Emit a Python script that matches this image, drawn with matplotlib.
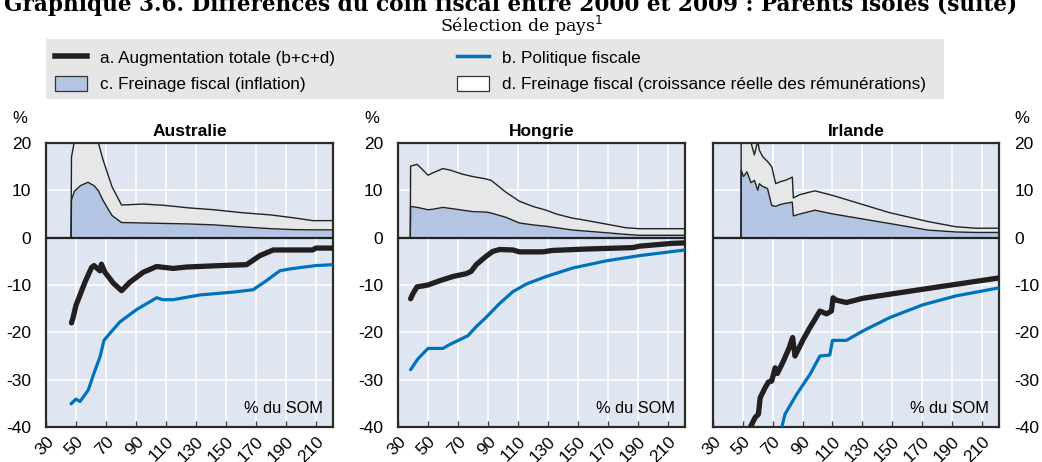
"""
Différences du coin fiscal entre 2000 et 2009 : parents isolés (suite).
Sélection de pays, décomposition par niveau de salaire (% du SOM).
"""
import matplotlib
matplotlib.use("Agg")
import matplotlib.pyplot as plt
from matplotlib.lines import Line2D
from matplotlib.patches import Patch
from matplotlib.transforms import ScaledTranslation

plt.rcParams.update({
    "font.family": ["Liberation Sans", "DejaVu Sans"],
    "font.size": 12,
    "axes.unicode_minus": False,
})

BG_AX    = "#dfe6f2"
C_INFL   = "#b3c5e3"
C_REAL   = "#e6e7e9"
C_TOTAL  = "#231f20"
C_POLICY = "#0072bc"

COUNTRIES = ["Australie", "Hongrie", "Irlande"]

# --- Australie -------------------------------------------------------------
aus_area_x = [30, 46.7, 47, 49, 53, 58, 62, 65, 68, 74, 80.4, 95, 110, 125, 142, 160, 180, 195, 208, 221.5]
aus_infl   = [0, 0, 8.0, 9.8, 11.0, 11.7, 11.0, 9.9, 7.9, 4.7, 3.2, 3.1, 3.0, 2.9, 2.7, 2.3, 1.9, 1.7, 1.65, 1.65]
aus_top    = [0, 0, 17.0, 20.5, 24.0, 26.0, 23.0, 20.0, 16.5, 10.8, 6.9, 7.1, 6.8, 6.3, 5.9, 5.3, 4.8, 4.2, 3.6, 3.6]
aus_tot_x  = [47, 48, 50, 52.7, 56, 60.4, 62, 66, 67, 69.3, 74.9, 80.4, 86, 94.9, 103.8, 114.9, 123.8, 146, 163.8, 172.7, 181.6, 208, 210, 221.5]
aus_tot    = [-18.0, -17.0, -14.3, -12.1, -9.4, -6.3, -5.9, -7.0, -5.6, -7.3, -9.6, -11.2, -9.4, -7.3, -6.1, -6.5, -6.2, -5.9, -5.7, -3.8, -2.6, -2.6, -2.2, -2.2]
aus_pol_x  = [46.7, 50, 52.7, 58.2, 61.6, 66, 68.7, 71.6, 79.3, 90.4, 103.8, 108, 114.9, 132.7, 154.9, 168.2, 177, 186, 192.7, 210, 221.5]
aus_pol    = [-35.1, -34.1, -34.6, -32.2, -29.0, -25.2, -21.7, -20.6, -17.8, -15.2, -12.7, -13.1, -13.1, -12.1, -11.5, -11.0, -9.1, -7.0, -6.6, -5.9, -5.7]

# --- Hongrie ---------------------------------------------------------------
hun_area_x = [30, 38.2, 38.4, 42.7, 44.4, 50, 53.3, 60, 64.4, 73.3, 80, 88.9, 92.2, 102, 111, 120, 128.9, 135.6, 146.7, 151, 166.7, 182, 191, 221.5]
hun_infl   = [0, 0, 6.6, 6.4, 6.3, 5.9, 6.0, 6.4, 6.2, 5.8, 5.5, 5.4, 5.2, 4.3, 3.1, 2.7, 2.4, 2.1, 1.6, 1.5, 1.1, 0.7, 0.5, 0.5]
hun_top    = [0, 0, 15.1, 15.5, 15.0, 13.2, 13.7, 14.6, 14.3, 13.4, 12.9, 12.4, 12.1, 9.6, 7.7, 6.6, 5.8, 5.0, 4.1, 3.9, 3.0, 2.1, 1.9, 1.9]
hun_tot_x  = [38.4, 40, 42.7, 50, 57.8, 66.7, 75.6, 78.9, 82.2, 88.9, 93.3, 97.8, 106.7, 111, 126.7, 133, 155.6, 186.7, 191, 213, 221.5]
hun_tot    = [-12.9, -11.8, -10.4, -10.0, -9.1, -8.2, -7.6, -7.1, -5.7, -3.9, -2.9, -2.5, -2.6, -3.0, -3.0, -2.7, -2.4, -2.1, -1.8, -1.2, -1.1]
hun_pol_x  = [38.4, 43.3, 50, 60, 64.4, 76.7, 82.2, 88.9, 97.8, 106.7, 115.6, 128.9, 146.7, 168.9, 191, 221.5]
hun_pol    = [-27.9, -25.6, -23.4, -23.4, -22.6, -20.7, -18.8, -16.8, -13.9, -11.4, -9.8, -8.2, -6.4, -4.9, -3.8, -2.6]

# --- Irlande ---------------------------------------------------------------
irl_area_x = [30, 48.7, 48.9, 50.4, 52.7, 55.5, 57.7, 60, 61, 63.3, 66.5, 69.3, 72, 74.9, 79.3, 83.1, 83.8, 88.2, 98.2, 110.4, 148, 174, 192.7, 206, 221.5]
irl_infl   = [0, 0, 14.3, 12.9, 13.9, 11.6, 12.1, 10.0, 11.4, 10.8, 10.4, 6.8, 6.6, 7.0, 7.3, 7.5, 4.6, 5.0, 5.8, 5.0, 3.0, 1.6, 1.2, 1.1, 1.1]
irl_top    = [0, 0, 25.0, 24.0, 22.0, 20.0, 17.5, 20.5, 18.5, 17.1, 16.1, 15.0, 11.4, 11.8, 12.2, 12.8, 8.4, 9.1, 9.9, 8.9, 5.3, 3.4, 2.3, 2.0, 2.0]
irl_tot_x  = [50, 54.9, 58.2, 60.4, 61.6, 64.9, 67.1, 69.3, 71.6, 73.1, 77.1, 81.1, 83.3, 84.9, 90.4, 94.9, 101.6, 106, 109.3, 110.4, 112.5, 119.3, 130.4, 170.4, 221.6]
irl_tot    = [-46.0, -40.1, -38.0, -37.3, -33.8, -31.7, -30.5, -30.3, -27.5, -28.7, -26.1, -23.2, -21.1, -25.0, -21.5, -19.0, -15.5, -16.1, -15.5, -12.7, -13.2, -13.7, -12.8, -10.9, -8.5]
irl_pol_x  = [72, 76, 78.2, 86, 94.9, 101.6, 108.2, 110, 119.3, 130.4, 148.2, 170.4, 192.7, 221.6]
irl_pol    = [-47.0, -40.1, -37.3, -33.1, -28.9, -25.0, -24.8, -21.7, -21.7, -19.7, -16.9, -14.2, -12.3, -10.6]

AREA_X = [aus_area_x, hun_area_x, irl_area_x]
INFL   = [aus_infl, hun_infl, irl_infl]
TOP    = [aus_top, hun_top, irl_top]
TOT_X  = [aus_tot_x, hun_tot_x, irl_tot_x]
TOT    = [aus_tot, hun_tot, irl_tot]
POL_X  = [aus_pol_x, hun_pol_x, irl_pol_x]
POL    = [aus_pol, hun_pol, irl_pol]

X_TICKS = list(range(30, 211, 20))
Y_TICKS = [-40, -30, -20, -10, 0, 10, 20]

W, H = 1042, 462
fig = plt.figure(figsize=(W / 100, H / 100), dpi=100)

# chart heading, cut at the top edge as in the source page
fig.text(0.004, 1 - 11 / H,
         "Graphique 3.6. Différences du coin fiscal entre 2000 et 2009 : Parents isolés (suite)",
         family="DejaVu Serif", fontweight="bold", fontsize=15.6, va="baseline", ha="left")
fig.text(522 / W, 1 - 32 / H, "Sélection de pays$^{1}$", family="DejaVu Serif",
         fontsize=12.5, ha="center", va="baseline")

# legend band
box_l, box_r = 46, 944
ax_leg = fig.add_axes([box_l / W, 1 - 99 / H, (box_r - box_l) / W, 60 / H])
ax_leg.set_facecolor("#e6e6e6")
ax_leg.set_xticks([]); ax_leg.set_yticks([])
for s in ax_leg.spines.values():
    s.set_visible(False)

leg_kw = dict(loc="center left", frameon=False, fontsize=12.3, handlelength=1.85,
              handleheight=0.95, handletextpad=0.8, labelspacing=0.62,
              borderpad=0, borderaxespad=0)
left_col = ax_leg.legend(
    [Line2D([], [], color=C_TOTAL, lw=4),
     Patch(facecolor=C_INFL, edgecolor="#333333", lw=0.9)],
    ["a. Augmentation totale (b+c+d)", "c. Freinage fiscal (inflation)"],
    bbox_to_anchor=((55 - box_l) / (box_r - box_l), 0.47), **leg_kw)
ax_leg.add_artist(left_col)
ax_leg.legend(
    [Line2D([], [], color=C_POLICY, lw=2.5),
     Patch(facecolor="white", edgecolor="#333333", lw=0.9)],
    ["b. Politique fiscale", "d. Freinage fiscal (croissance réelle des rémunérations)"],
    bbox_to_anchor=((457 - box_l) / (box_r - box_l), 0.47), **leg_kw)

lefts = [46, 398, 713]
widths = [287, 287, 286]
shift = ScaledTranslation(-4 / 100, 0, fig.dpi_scale_trans)
for i, name in enumerate(COUNTRIES):
    ax = fig.add_axes([lefts[i] / W, 1 - 427 / H, widths[i] / W, 284 / H])
    ax.set_facecolor(BG_AX)
    for xv in X_TICKS[1:]:
        ax.axvline(xv, color="white", lw=1.2, zorder=0)
    for yv in Y_TICKS[1:-1]:
        ax.axhline(yv, color="white", lw=1.2, zorder=0)

    ax.fill_between(AREA_X[i], 0, INFL[i], color=C_INFL, lw=0, zorder=1)
    ax.fill_between(AREA_X[i], INFL[i], TOP[i], color=C_REAL, lw=0, zorder=1)
    ax.plot(AREA_X[i], INFL[i], color="#222222", lw=1.0, zorder=2)
    ax.plot(AREA_X[i], TOP[i], color="#222222", lw=1.0, zorder=2)
    ax.axhline(0, color="#222222", lw=1.6, zorder=3)

    ax.plot(POL_X[i], POL[i], color=C_POLICY, lw=2.3, zorder=4,
            solid_capstyle="round")
    ax.plot(TOT_X[i], TOT[i], color=C_TOTAL, lw=3.8, zorder=5,
            solid_capstyle="round")

    ax.set_xlim(30, 221.5)
    ax.set_ylim(-40, 20)
    ax.set_xticks(X_TICKS)
    ax.set_xticklabels([str(v) for v in X_TICKS], rotation=45, ha="right",
                       va="top", rotation_mode="anchor")
    for lab in ax.get_xticklabels():
        lab.set_transform(lab.get_transform() + shift)
    ax.set_yticks(Y_TICKS)
    ax.tick_params(axis="x", direction="in", length=4, width=1, color="#444444",
                   pad=5, labelsize=12.5)
    ax.tick_params(axis="y", direction="in", length=0, pad=10.5, labelsize=12.5)
    for s in ax.spines.values():
        s.set_linewidth(1.6)
        s.set_color("#2b2b2b")

    ax.set_title(name, fontweight="bold", fontsize=12.5, pad=5)
    ax.text(0.965, 0.05, "% du SOM", transform=ax.transAxes,
            ha="right", va="baseline", fontsize=11.8)

    if i == 2:
        ax.yaxis.tick_right()
        ax.tick_params(axis="y", direction="in", length=0, pad=11)
        ax.text(1.08, 1.06, "%", transform=ax.transAxes, ha="center",
                va="bottom", fontsize=12)
    else:
        ax.text(-0.09, 1.06, "%", transform=ax.transAxes, ha="center",
                va="bottom", fontsize=12)

fig.savefig("out.png", dpi=100)
